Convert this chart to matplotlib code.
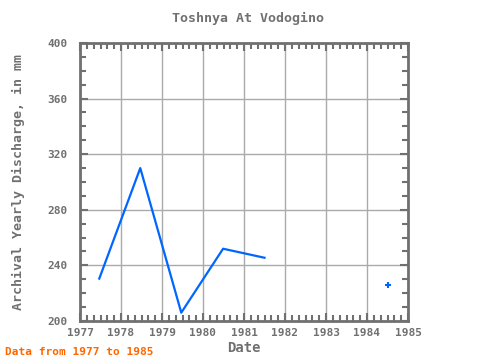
import matplotlib
matplotlib.use("Agg")
import matplotlib.pyplot as plt
import numpy as np
from matplotlib.ticker import MultipleLocator

# yearly discharge (mm), gap in 1982-1983
years = [1977.47, 1978.47, 1979.47, 1980.49, 1981.5, 1982.5, 1983.5, 1984.5]
discharge = [230.5, 310, 206, 252, 245.5, np.nan, np.nan, 226]

gray = "#707070"
plt.rcParams['font.family'] = ['DejaVu Sans Mono']

fig = plt.figure(figsize=(4.8, 3.6), dpi=100)
ax = fig.add_axes([80/480, 39/360, 328/480, 278/360])

ax.plot(years, discharge, color="#0066ff", lw=1.6)
ax.plot(years[-1], discharge[-1], marker="+", color="#0066ff", ms=4, mew=1.5)

ax.set_xlim(1977, 1985)
ax.set_ylim(200, 400)
ax.xaxis.set_major_locator(MultipleLocator(1))
ax.xaxis.set_minor_locator(MultipleLocator(1/6))
ax.yaxis.set_major_locator(MultipleLocator(40))
ax.yaxis.set_minor_locator(MultipleLocator(10))
ax.grid(True, which="major", color="#aaaaaa", lw=1)
ax.set_axisbelow(True)

for s in ax.spines.values():
    s.set_color(gray)
    s.set_linewidth(2)
ax.tick_params(which="both", direction="in", top=True, right=True, color=gray,
               labelcolor=gray, labelsize=8)
ax.tick_params(which="major", length=6, width=1.5)
ax.tick_params(which="minor", length=4, width=1.5)
ax.tick_params(axis="y", which="major", pad=9)
ax.tick_params(axis="x", which="major", pad=5)
for lab in ax.get_xticklabels() + ax.get_yticklabels():
    lab.set_fontweight("bold")

ax.set_xlabel("Date", color=gray, fontsize=10, fontweight="bold", labelpad=2)
fig.text(18/480, 1 - 182/360, "Archival Yearly Discharge, in mm", rotation=90,
         ha="center", va="center", color=gray, fontsize=9.5, fontweight="bold")
fig.text(248/480, 1 - 18/360, "Toshnya At Vodogino", ha="center", va="center",
         color=gray, fontsize=9.5, fontweight="bold")
fig.text(5/480, 1 - 352/360, "Data from 1977 to 1985", ha="left", va="center",
         color="#ff6600", fontsize=8, fontweight="bold")

fig.savefig("out.png", dpi=100)
